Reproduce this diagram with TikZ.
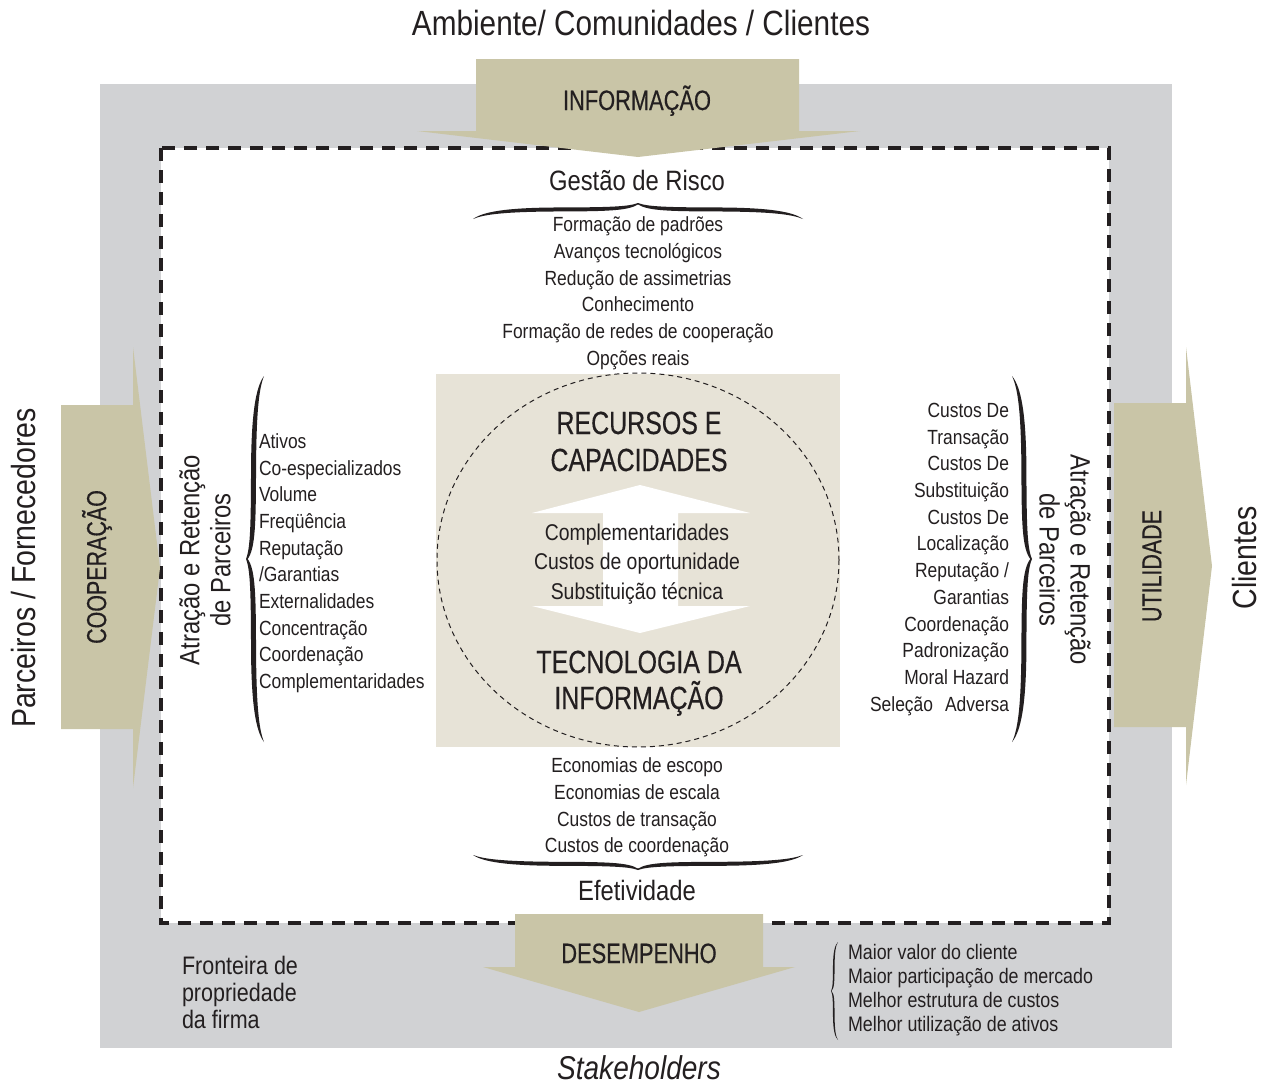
\documentclass[tikz,border=0pt]{standalone}
\usepackage{fontspec}
\setmainfont[FakeStretch=0.85]{Liberation Sans}
\newfontfamily\capsf[FakeStretch=0.78,FakeBold=0.4]{Liberation Sans}
\definecolor{grayband}{HTML}{D1D2D4}
\definecolor{khaki}{HTML}{C9C5A7}
\definecolor{beige}{HTML}{E7E3D7}
\definecolor{ink}{HTML}{231F20}
\newcommand\fsz[2]{\fontsize{#1}{#2}\selectfont}
% tapered curly brace along local x from (0,0) to (#1,0), tip at (#1/2,-#2), thickness #3
\newcommand\curlybrace[3]{%
\fill[ink] (0,0) .. controls ({0.03*#1},{-0.45*#2}) and ({0.1*#1},{-0.7*#2}) .. ({0.25*#1},{-0.72*#2})
 .. controls ({0.4*#1},{-0.73*#2}) and ({0.47*#1},{-0.75*#2}) .. ({0.5*#1},{-#2})
 .. controls ({0.53*#1},{-0.75*#2}) and ({0.6*#1},{-0.73*#2}) .. ({0.75*#1},{-0.72*#2})
 .. controls ({0.9*#1},{-0.7*#2}) and ({0.97*#1},{-0.45*#2}) .. (#1,0)
 .. controls ({0.97*#1-0.3*#3},{-0.45*#2+0.6*#3}) and ({0.9*#1},{-0.7*#2+#3}) .. ({0.75*#1},{-0.72*#2+#3})
 .. controls ({0.6*#1},{-0.73*#2+#3}) and ({0.53*#1},{-0.75*#2+#3}) .. ({0.5*#1},{-#2+0.35*#3})
 .. controls ({0.47*#1},{-0.75*#2+#3}) and ({0.4*#1},{-0.73*#2+#3}) .. ({0.25*#1},{-0.72*#2+#3})
 .. controls ({0.1*#1},{-0.7*#2+#3}) and ({0.03*#1+0.3*#3},{-0.45*#2+0.6*#3}) .. (0,0) -- cycle;}
\tikzset{
  lbl/.style={inner sep=0pt, outer sep=0pt, text=ink},
  arrowshape/.style={fill=khaki, draw=none},
}
\begin{document}
\begin{tikzpicture}[x=1pt,y=-1pt]
\useasboundingbox (0,0) rectangle (1264,1084);
% background band
\fill[grayband] (100,84) rectangle (1172,1048);
% firm boundary
\draw[fill=white, draw=ink, line width=3.8pt, dash pattern=on 13pt off 9pt] (161,148) rectangle (1109,923);
% core box
\fill[beige] (436,374) rectangle (840,747);
\draw[ink, line width=1pt, dash pattern=on 5pt off 4pt] (638,560) ellipse [x radius=201, y radius=187];
% white double arrow
\fill[white] (640,485) -- (750,513) -- (678,513) -- (678,606) -- (750,606) -- (640,633) -- (532,606) -- (603,606) -- (603,513) -- (532,513) -- cycle;
% khaki arrows
\fill[arrowshape] (476,59) -- (799,59) -- (799,131) -- (860,131) -- (638,157) -- (417,131) -- (476,131) -- cycle;
\fill[arrowshape] (61,405) -- (133,405) -- (133,347) -- (160,568) -- (133,788) -- (133,729) -- (61,729) -- cycle;
\fill[arrowshape] (1114,403) -- (1186,403) -- (1186,347) -- (1212,566) -- (1186,785) -- (1186,727) -- (1114,727) -- cycle;
\fill[arrowshape] (515,914) -- (763,914) -- (763,967) -- (795,967) -- (639,1012) -- (483,967) -- (515,967) -- cycle;

% titles
\node[lbl, anchor=base, font=\fsz{35}{40}] (amb) at (641,35.5) {Ambiente/ Comunidades / Clientes};
\node[lbl, anchor=base, font=\capsf\fsz{28}{32}] (info) at (637,110) {INFORMAÇÃO};
\node[lbl, anchor=base, font=\fsz{28}{32}] (gestao) at (637,190) {Gestão de Risco};
\node[lbl, anchor=base, font=\fsz{28}{32}] (efet) at (637,900) {Efetividade};
\node[lbl, anchor=base, font=\capsf\fsz{28}{32}] (desemp) at (639,963) {DESEMPENHO};
\node[lbl, anchor=base, font=\itshape\fsz{33}{36}] (stake) at (639,1079.5) {Stakeholders};

% top list
\foreach \t [count=\i from 0] in {Formação de padrões, Avanços tecnológicos, Redução de assimetrias, Conhecimento, Formação de redes de cooperação, Opções reais}
  \node[lbl, anchor=base, font=\fsz{20.5}{24}] (top\i) at (638,231.4+26.8*\i) {\t};
% bottom list
\foreach \t [count=\i from 0] in {Economias de escopo, Economias de escala, Custos de transação, Custos de coordenação}
  \node[lbl, anchor=base, font=\fsz{20.5}{24}] (bot\i) at (637,772.4+26.8*\i) {\t};

% core texts
\node[lbl, anchor=base, font=\capsf\fsz{32}{36}] (rec1) at (639,434) {RECURSOS E};
\node[lbl, anchor=base, font=\capsf\fsz{32}{36}] (rec2) at (639,471) {CAPACIDADES};
\node[lbl, anchor=base, font=\fsz{22.8}{26}] (mid1) at (637,540) {Complementaridades};
\node[lbl, anchor=base, font=\fsz{22.8}{26}] (mid2) at (637,569) {Custos de oportunidade};
\node[lbl, anchor=base, font=\fsz{22.8}{26}] (mid3) at (637,599) {Substituição técnica};
\node[lbl, anchor=base, font=\capsf\fsz{32}{36}] (ti1) at (639,673) {TECNOLOGIA DA};
\node[lbl, anchor=base, font=\capsf\fsz{32}{36}] (ti2) at (639,709) {INFORMAÇÃO};

% left list
\foreach \t [count=\i from 0] in {Ativos, Co-especializados, Volume, Freqüência, Reputação, /Garantias, Externalidades, Concentração, Coordenação, Complementaridades}
  \node[lbl, anchor=base west, font=\fsz{20.5}{24}] (lft\i) at (259,448.4+26.67*\i) {\t};
% right list
\foreach \t [count=\i from 0] in {Custos De, Transação, Custos De, Substituição, Custos De, Localização, Reputação /, Garantias, Coordenação, Padronização, Moral Hazard, Seleção\hspace{0.35em} Adversa}
  \node[lbl, anchor=base east, font=\fsz{20.5}{24}] (rgt\i) at (1009,417.4+26.7*\i) {\t};

% rotated labels
\node[lbl, rotate=90, font=\fsz{33.5}{36}] (parc) at (24,568) {Parceiros / Fornecedores};
\node[lbl, rotate=90, font=\capsf\fsz{27.5}{30}] (coop) at (97,567) {COOPERAÇÃO};
\node[lbl, rotate=90, align=center, font=\fsz{28}{31}] (atrL) at (205,560) {Atração e Retenção\\de Parceiros};
\node[lbl, rotate=-90, align=center, font=\fsz{28}{31}] (atrR) at (1065,560) {Atração e Retenção\\de Parceiros};
\node[lbl, rotate=90, font=\capsf\fsz{27.5}{30}] (util) at (1152,566) {UTILIDADE};
\node[lbl, rotate=90, font=\fsz{33.5}{36}] (cli) at (1245,558) {Clientes};

% bottom-left
\node[lbl, anchor=base west, font=\fsz{25.3}{27}] (front1) at (182,974) {Fronteira de};
\node[lbl, anchor=base west, font=\fsz{25.3}{27}] (front2) at (182,1001) {propriedade};
\node[lbl, anchor=base west, font=\fsz{25.3}{27}] (front3) at (182,1028) {da firma};
% bottom-right list
\foreach \t [count=\i from 0] in {Maior valor do cliente, Maior participação de mercado, Melhor estrutura de custos, Melhor utilização de ativos}
  \node[lbl, anchor=base west, font=\fsz{21}{24}] (res\i) at (848,959.5+24*\i) {\t};

% braces
\begin{scope}[shift={(473,219)}] \curlybrace{330}{16}{4} \end{scope}
\begin{scope}[shift={(803,855)}, rotate=180] \curlybrace{330}{15}{4} \end{scope}
\begin{scope}[shift={(264,742)}, rotate=90] \curlybrace{366}{18}{5} \end{scope}
\begin{scope}[shift={(1012,376)}, rotate=-90] \curlybrace{366}{20}{5} \end{scope}
\begin{scope}[shift={(838,1040)}, rotate=90] \curlybrace{98}{7}{1.6} \end{scope}
\end{tikzpicture}
\end{document}
